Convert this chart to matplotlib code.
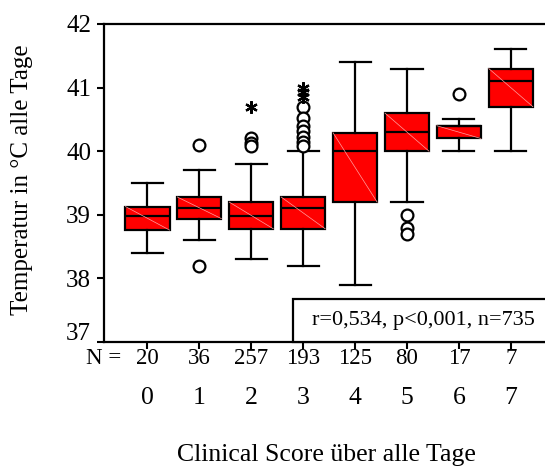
import matplotlib
matplotlib.use("Agg")
import matplotlib.pyplot as plt
from matplotlib.patches import Rectangle
import matplotlib.transforms as mtrans

plt.rcParams['font.family'] = ['Liberation Serif', 'DejaVu Serif']

scores = [0, 1, 2, 3, 4, 5, 6, 7]
n_counts = [20, 36, 257, 193, 125, 80, 17, 7]
whislo = [38.4, 38.6, 38.3, 38.2, 37.9, 39.2, 40.0, 40.0]
q1 = [38.76, 38.94, 38.78, 38.78, 39.2, 40.0, 40.2, 40.7]
med = [38.98, 39.1, 38.98, 39.1, 40.0, 40.3, 40.4, 41.1]
q3 = [39.13, 39.28, 39.2, 39.28, 40.29, 40.6, 40.4, 41.3]
whishi = [39.5, 39.7, 39.8, 40.0, 41.4, 41.3, 40.5, 41.6]
outliers = [[], [40.1, 38.2], [40.2, 40.13, 40.08],
            [40.7, 40.52, 40.39, 40.31, 40.23, 40.15, 40.08],
            [], [39.0, 38.8, 38.7], [40.9], []]
extremes = [[], [], [40.7], [41.0, 40.93, 40.86], [], [], [], []]
ytick_vals = [37, 38, 39, 40, 41, 42]
annot = "r=0,534, p<0,001, n=735"

fig = plt.figure(figsize=(5.45, 4.72), dpi=100)
ax = fig.add_axes([103.6/545, (472-342)/472, (554.9-103.6)/545, 318/472])

stats = []
for i in range(len(scores)):
    stats.append(dict(whislo=whislo[i], q1=q1[i], med=med[i], q3=q3[i],
                      whishi=whishi[i], fliers=outliers[i]))
lw = 1.6
ax.bxp(stats, positions=scores, widths=0.85, patch_artist=True,
       boxprops=dict(facecolor='#ff0000', edgecolor='black', linewidth=lw),
       medianprops=dict(color='black', linewidth=lw),
       whiskerprops=dict(color='black', linewidth=lw),
       capprops=dict(color='black', linewidth=lw),
       capwidths=0.6,
       flierprops=dict(marker='o', markerfacecolor='white', markeredgecolor='black',
                       markersize=8.5, markeredgewidth=1.6, linestyle='none'))
# faint diagonals inside boxes
for i, x in enumerate(scores):
    ax.plot([x - 0.425, x + 0.425], [q3[i], q1[i]], color='#ffa0a0', lw=0.5, zorder=3)
for i, x in enumerate(scores):
    if extremes[i]:
        ax.plot([x] * len(extremes[i]), extremes[i], linestyle='none',
                marker=(6, 2, 0), markersize=9, markeredgewidth=1.6,
                color='black', zorder=4)

ax.set_xlim(-0.845, 7.85)
ax.set_ylim(37, 42)
ax.set_yticks(ytick_vals)
ax.set_yticklabels([str(v) for v in ytick_vals], fontsize=18)
ax.set_xticks(scores)
ax.set_xticklabels([])
ax.tick_params(axis='x', direction='out', length=5, width=1.5)
ax.tick_params(axis='y', direction='out', length=5, width=1.5, pad=4)
for s in ax.spines.values():
    s.set_linewidth(1.6)

# shift "37" label slightly up
lbl37 = ax.get_yticklabels()[0]
lbl37.set_transform(lbl37.get_transform() + mtrans.ScaledTranslation(0, 10/100, fig.dpi_scale_trans))

# annotation box
ax.add_patch(Rectangle((2.798, 37), 7.85 - 2.798, 37.67 - 37, facecolor='white',
                       edgecolor='black', linewidth=1.6, zorder=5, clip_on=False))
ax.text(5.31, 37.345, annot, ha='center', va='center', fontsize=16, zorder=6)

trans = mtrans.blended_transform_factory(ax.transData, ax.transAxes)
# N row
ny = -(359 - 342) / 318
for x, n in zip(scores, n_counts):
    ax.text(x, ny, str(n), transform=trans, ha='center', va='center', fontsize=16.5)
ax.text(-0.85, ny, "N =", transform=trans, ha='center', va='center', fontsize=16.5)
# category labels
cy = -(398 - 342) / 318
for x in scores:
    ax.text(x, cy, str(x), transform=trans, ha='center', va='center', fontsize=18.5)

fig.text(326.7/545, 1 - 455/472, "Clinical Score über alle Tage", ha='center', va='center', fontsize=18.5)
fig.text(22/545, 1 - 180/472, "Temperatur in °C alle Tage", ha='center', va='center',
         rotation=90, fontsize=18)

fig.savefig("out.png", dpi=100)
